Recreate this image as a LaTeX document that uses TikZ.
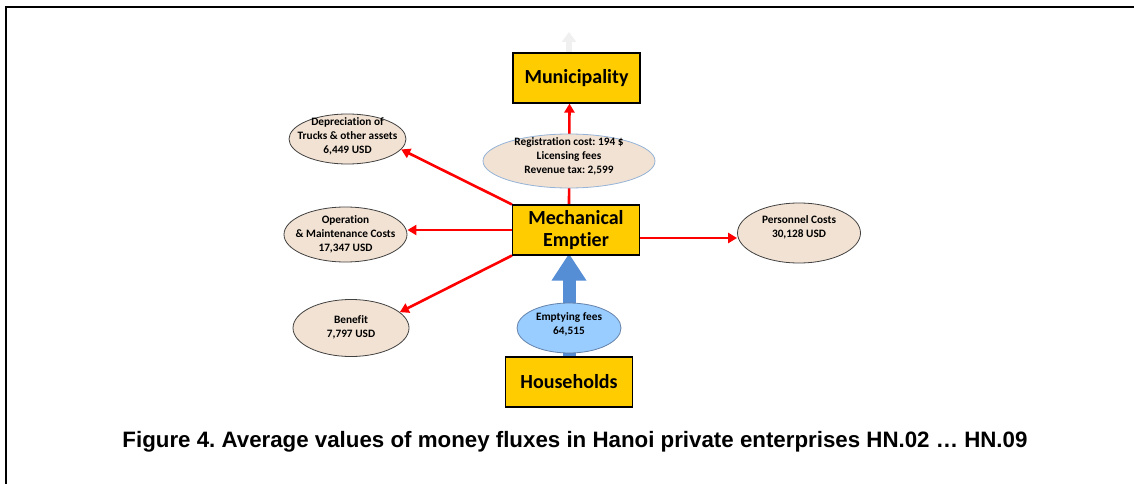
\documentclass[tikz,border=0pt]{standalone}
\usepackage{fontspec}
\setmainfont{Carlito}[Ligatures=NoCommon]
\newfontfamily\capfont{Liberation Sans}
\usetikzlibrary{shapes.geometric,arrows.meta,backgrounds}
\definecolor{boxfill}{RGB}{255,204,0}
\definecolor{beige}{RGB}{242,226,211}
\definecolor{ellblue}{RGB}{149,179,215}
\definecolor{feeblue}{RGB}{153,204,255}
\definecolor{feeedge}{RGB}{100,130,170}
\definecolor{arrblue}{RGB}{85,142,213}
\definecolor{arrred}{RGB}{255,0,0}
\definecolor{ghost}{RGB}{240,240,240}
\frenchspacing
\begin{document}
\begin{tikzpicture}[x=1pt,y=-1pt,
  box/.style={draw=black,line width=1.1pt,fill=boxfill,minimum width=127pt,minimum height=50pt,inner sep=0pt,align=center,font=\bfseries\fontsize{20}{24}\selectfont},
  cost/.style={ellipse,draw=black!75,line width=0.8pt,fill=beige,inner sep=0pt},
  costtext/.style={align=center,inner sep=0pt,font=\bfseries\fontsize{11.3}{14}\selectfont},
  flow/.style={draw=arrred,line width=2.6pt,-{Triangle[length=9pt,width=10pt]}},
]
\useasboundingbox (0,0) rectangle (1134,484);
\draw[line width=2pt] (6,484) -- (6,7) -- (1134,7);

% boxes
\node[box] (mun) at (576.5,78) {Municipality};
\node[box] (me) at (576,230) {Mechanical\\[-2pt]Emptier};
\node[box] (hh) at (569,382) {Households};

% ellipses
\node[cost,draw=ellblue,minimum width=172pt,minimum height=54pt] (reg) at (569,161) {};
\node[costtext] (regt) at (569,156) {Registration cost: 194 \$\\Licensing fees\\Revenue tax: 2,599};
\node[cost,minimum width=117pt,minimum height=50pt] (dep) at (347.5,139) {};
\node[costtext] (dept) at (347.5,136) {Depreciation of\\Trucks \& other assets\\6,449 USD};
\node[cost,minimum width=123pt,minimum height=55pt] (op) at (345.5,234.5) {};
\node[costtext] (opt) at (345.5,234) {Operation\\\& Maintenance Costs\\17,347 USD};
\node[cost,minimum width=116pt,minimum height=57pt] (ben) at (351,328) {};
\node[costtext] (bent) at (351,327.5) {Benefit\\7,797 USD};
\node[cost,minimum width=123pt,minimum height=60pt] (per) at (799,233) {};
\node[costtext] (pert) at (799,227) {Personnel Costs\\30,128 USD};
\node[cost,draw=feeedge,fill=feeblue,minimum width=104pt,minimum height=50pt] (fee) at (569,328) {};
\node[costtext] (feet) at (569,324.5) {Emptying fees\\64,515};

\coordinate (gtop) at (569,32);

\begin{pgfonlayer}{background}
  \draw[ghost,line width=6pt,-{Triangle[width=14pt,length=10pt]}] ([xshift=-7.5pt]mun.north) -- (gtop);
  \draw[flow] ([xshift=-7pt]me.north) -- ([xshift=-7pt]mun.south);
  \draw[flow] (me.north west) -- (dep.-11);
  \draw[flow] (me.west) -- (me.west -| op.east);
  \draw[flow] (me.south west) -- (ben.18);
  \draw[flow] ([yshift=-8pt]me.east) -- ([yshift=-8pt]me.east -| per.west);
  \draw[arrblue,line width=13pt,-{Triangle[width=33pt,length=27pt]}] (hh.north) -- ([yshift=2pt]hh.north |- me.south);
\end{pgfonlayer}

\node[font=\capfont\bfseries\fontsize{22.3}{26}\selectfont] (cap) at (575,442) {Figure 4. Average values of money fluxes in Hanoi private enterprises HN.02 … HN.09};
\end{tikzpicture}
\end{document}
